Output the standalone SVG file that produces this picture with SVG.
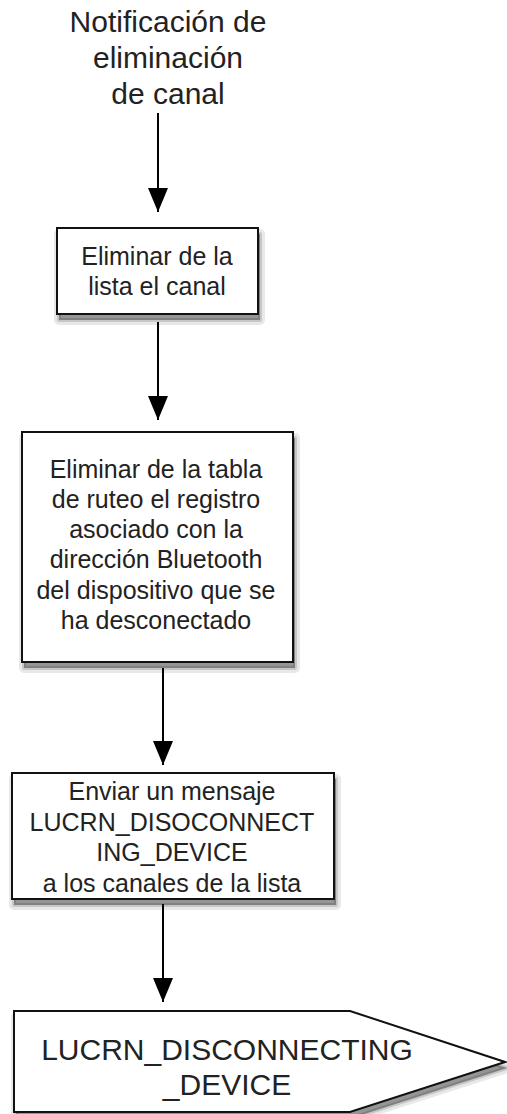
<svg xmlns="http://www.w3.org/2000/svg" width="507" height="1114" viewBox="0 0 507 1114">
<style>
.t{font-family:"Liberation Sans",Arial,sans-serif;fill:#222;text-anchor:middle}
.b{font-size:25px}
.big{font-size:30px}
.box{fill:#fff;stroke:#111;stroke-width:2}
.s1{fill:#000;fill-opacity:0.14;stroke:#000;stroke-opacity:0.09;stroke-width:10;stroke-linejoin:round}
.s2{fill:#000;fill-opacity:0.25;stroke:#000;stroke-opacity:0.14;stroke-width:4;stroke-linejoin:round}
.c{stroke:#000;stroke-width:2;fill:none}
</style>
<defs>
<marker id="ah" viewBox="0 0 24 20" refX="24" refY="10" markerWidth="24" markerHeight="20" markerUnits="userSpaceOnUse" orient="auto">
<path d="M0,0 L24,10 L0,20 Z" fill="#000"/>
</marker>
<rect id="r1" x="57" y="228" width="201" height="86"/>
<rect id="r2" x="22" y="432" width="271" height="230"/>
<rect id="r3" x="12" y="773" width="322" height="126"/>
<path id="p4" d="M14,1011 L350,1011 L505,1062 L350,1112 L14,1112 Z"/>
</defs>
<g id="start">
<text class="t big" x="168" y="32">Notificación de</text>
<text class="t big" x="168" y="68">eliminación</text>
<text class="t big" x="168" y="104">de canal</text>
</g>
<g id="n1">
<use href="#r1" class="s1" transform="translate(2,6)"/>
<use href="#r1" class="s2" transform="translate(2,6)"/>
<use href="#r1" class="box"/>
<text class="t b" x="157" y="265">Eliminar de la</text>
<text class="t b" x="157" y="295">lista el canal</text>
</g>
<g id="n2">
<use href="#r2" class="s1" transform="translate(2,6)"/>
<use href="#r2" class="s2" transform="translate(2,6)"/>
<use href="#r2" class="box"/>
<text class="t b" x="156" y="478">Eliminar de la tabla</text>
<text class="t b" x="156" y="508">de ruteo el registro</text>
<text class="t b" x="156" y="538">asociado con la</text>
<text class="t b" x="156" y="568">dirección Bluetooth</text>
<text class="t b" x="156" y="599">del dispositivo que se</text>
<text class="t b" x="156" y="629">ha desconectado</text>
</g>
<g id="n3">
<use href="#r3" class="s1" transform="translate(2,6)"/>
<use href="#r3" class="s2" transform="translate(2,6)"/>
<use href="#r3" class="box"/>
<text class="t b" x="172" y="800">Enviar un mensaje</text>
<text class="t b" x="172" y="831">LUCRN_DISOCONNECT</text>
<text class="t b" x="172" y="861">ING_DEVICE</text>
<text class="t b" x="172" y="892">a los canales de la lista</text>
</g>
<g id="n4">
<use href="#p4" class="s1" transform="translate(2,6)"/>
<use href="#p4" class="s2" transform="translate(2,6)"/>
<use href="#p4" class="box"/>
<text class="t big" x="227" y="1060">LUCRN_DISCONNECTING</text>
<text class="t big" x="227" y="1095">_DEVICE</text>
</g>
<g id="connectors">
<line class="c" marker-end="url(#ah)" x1="158" y1="113" x2="158" y2="212"/>
<line class="c" marker-end="url(#ah)" x1="158" y1="322" x2="158" y2="420"/>
<line class="c" marker-end="url(#ah)" x1="163" y1="668" x2="163" y2="765"/>
<line class="c" marker-end="url(#ah)" x1="163" y1="904" x2="163" y2="1002"/>
</g>
</svg>
